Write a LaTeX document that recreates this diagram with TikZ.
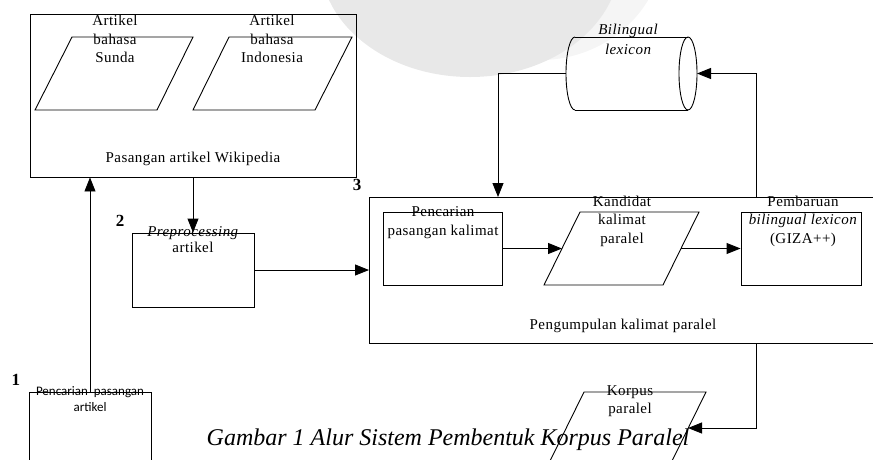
\documentclass[tikz,border=0pt]{standalone}
\usepackage{fontspec}
\setmainfont{Liberation Serif}
\newfontfamily\spaced[LetterSpace=3]{Liberation Serif}
\newfontfamily\boxsans{Carlito}
\usetikzlibrary{arrows.meta}
\begin{document}
\begin{tikzpicture}[x=1pt,y=-1pt,
  line width=0.9pt,
  box/.style={draw,rectangle,inner sep=0pt},
  arr/.style={-{Triangle[length=14pt,width=11pt]}},
  lbl/.style={align=center,inner sep=0pt,font=\spaced\fontsize{15}{18.5}\selectfont},
  num/.style={inner sep=0pt,font=\fontsize{17}{17}\selectfont\bfseries}]
\useasboundingbox (0,0) rectangle (873,459);
% watermark
\fill[black!4] (540,-60) ellipse [x radius=125, y radius=120];
\fill[black!9] (470,-40) ellipse [x radius=150, y radius=117];
% Pasangan artikel Wikipedia
\node[box,minimum width=326pt,minimum height=163pt] (wiki) at (193,95.5) {};
\draw (72,37) -- (193,37) -- (157,110) -- (35,110) -- cycle;
\draw (229,37) -- (352,37) -- (315,110) -- (193,110) -- cycle;
\node[lbl] (tsunda) at (115,39) {Artikel\\bahasa\\Sunda};
\node[lbl] (tindo) at (272,39) {Artikel\\bahasa\\Indonesia};
\node[lbl] (twiki) at (193,159) {Pasangan artikel Wikipedia};
% 1 Pencarian pasangan artikel
\node[box,minimum width=122pt,minimum height=90pt] (pc1) at (90,437) {};
\node[lbl,font=\boxsans\fontsize{13}{16}\selectfont] (tpc1) at (90,399) {Pencarian\ \ pasangan\\artikel};
\node[num] (n1) at (16,380) {1};
% 2 Preprocessing
\node[box,minimum width=122pt,minimum height=74pt] (pre) at (193,270) {};
\node[lbl,font=\spaced\fontsize{15}{16}\selectfont] (tpre) at (193,240) {\textit{Preprocessing}\\artikel};
\node[num] (n2) at (120,221) {2};
% 3 Pengumpulan kalimat paralel
\node[box,minimum width=530pt,minimum height=146pt,anchor=north west] (big) at (369,197) {};
\node[num] (n3) at (357,185) {3};
\node[box,minimum width=119pt,minimum height=73pt] (pks) at (442.5,248.5) {};
\node[lbl] (tpks) at (443,222.5) {Pencarian\\pasangan\ kalimat};
\draw (580,212) -- (699,212) -- (663,285) -- (544,285) -- cycle;
\coordinate (kanL) at (562,248.5);
\coordinate (kanR) at (681,248.5);
\node[lbl] (tkan) at (622,221) {Kandidat\\kalimat\\paralel};
\node[box,minimum width=120pt,minimum height=73pt] (pemb) at (801,248.5) {};
\node[lbl] (tpemb) at (803,221) {Pembaruan\\\textit{bilingual lexicon}\\(GIZA++)};
\node[lbl] (tbig) at (623,326) {Pengumpulan kalimat paralel};
% cylinder
\draw (575,37) -- (688,37);
\draw (575,110) -- (688,110);
\draw (575,37) arc[start angle=270,end angle=90,x radius=9,y radius=36.5];
\draw (688,73.5) ellipse [x radius=9, y radius=36.5];
\coordinate (cylL) at (566,73.5);
\coordinate (cylR) at (697,73.5);
\node[lbl,font=\spaced\fontsize{15}{20}\selectfont\itshape] (tcyl) at (628,39) {Bilingual\\lexicon};
% Korpus paralel
\draw (584,392) -- (706,392) -- (670,465) -- (548,465) -- cycle;
\coordinate (korR) at (688,428);
\node[lbl,font=\spaced\fontsize{15}{18}\selectfont] (tkor) at (630,401) {Korpus\\paralel};
% connector anchors on big box
\coordinate (bigin) at (498,197);
\coordinate (bigup) at (756,197);
\coordinate (bigdown) at (756,343);
% connectors
\draw[arr] (pc1.north) -- (pc1.north |- wiki.south);
\draw[arr] (wiki.south) -- (pre.north);
\draw[arr] (pre.east) -- (pre.east -| big.west);
\draw[arr] (cylL) -| (bigin);
\draw[arr] (bigup) |- (cylR);
\draw[arr] (bigdown) |- (korR);
\draw[arr] (pks.east) -- (kanL);
\draw[arr] (kanR) -- (pemb.west);
% caption
\node[inner sep=0pt,font=\fontsize{24}{24}\selectfont\itshape] (cap) at (448,440) {Gambar 1 Alur Sistem Pembentuk Korpus Paralel};
\end{tikzpicture}
\end{document}
